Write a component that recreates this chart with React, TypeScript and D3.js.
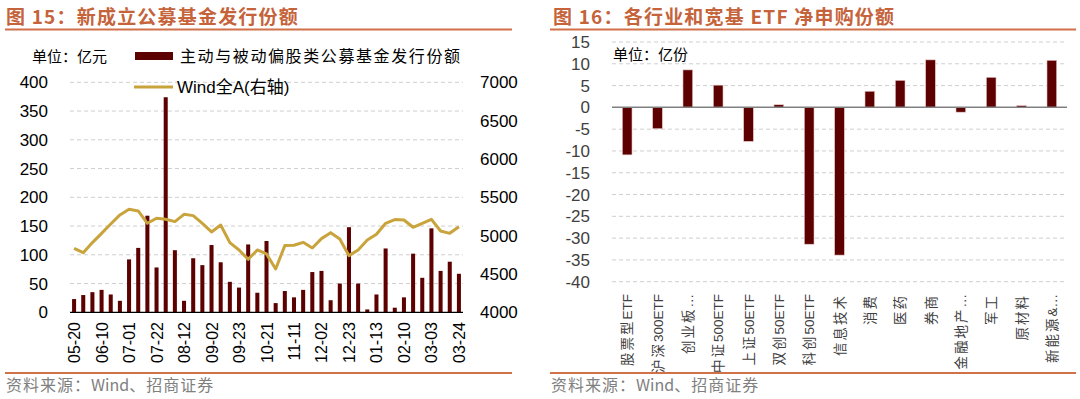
import React from "react";
import * as d3 from "d3";

// left chart: weekly new fund issuance (亿元) + Wind全A
const weeks = [
  "05-20", "05-27", "06-03", "06-10", "06-17", "06-24", "07-01", "07-08", "07-15",
  "07-22", "07-29", "08-05", "08-12", "08-19", "08-26", "09-02", "09-09", "09-16",
  "09-23", "10-08", "10-14", "10-21", "10-28", "11-04", "11-11", "11-18", "11-25",
  "12-02", "12-09", "12-16", "12-23", "12-30", "01-06", "01-13", "01-20", "01-27",
  "02-10", "02-17", "02-24", "03-03", "03-10", "03-17", "03-24",
];
const issuance = [
  23, 30, 35, 39, 31, 20, 92, 112, 168, 78, 374, 108, 20, 94, 82, 117, 87, 53,
  43, 118, 34, 124, 16, 37, 26, 39, 70, 72, 21, 50, 148, 50, 5, 31, 111, 8, 26,
  102, 60, 146, 72, 88, 67,
];
const windA = [
  4835, 4778, 4909, 5030, 5152, 5270, 5343, 5322, 5161, 5226, 5213, 5183, 5278,
  5261, 5161, 5048, 5139, 4909, 4813, 4691, 4813, 4761, 4565, 4870, 4874, 4913,
  4839, 4961, 5039, 4957, 4739, 4813, 4943, 5017, 5161, 5209, 5204, 5109, 5161,
  5213, 5061, 5030, 5117,
];
const leftTicks = [0, 50, 100, 150, 200, 250, 300, 350, 400];
const rightTicks = [4000, 4500, 5000, 5500, 6000, 6500, 7000];

// right chart: ETF net subscription (亿份)
const etfNames = [
  "股票型ETF", "沪深300ETF", "创业板…", "中证500ETF", "上证50ETF", "双创50ETF",
  "科创50ETF", "信息技术", "消费", "医药", "券商", "金融地产…", "军工", "原材料", "新能源&…",
];
const etfFlow = [-10.9, -4.9, 8.6, 5.1, -7.8, 0.6, -31.4, -33.9, 3.7, 6.2, 10.9, -1.1, 6.9, 0.4, 10.8];
const flowTicks = [15, 10, 5, 0, -5, -10, -15, -20, -25, -30, -35, -40];

const TITLE = "#c5633a";
const BAR = "#5c0000";
const GOLD = "#c9a43c";
const GRID = "#cfcfcf";
const SANS = "'Liberation Sans', Arial, 'Noto Sans CJK SC', sans-serif";
const CJK = "'Noto Sans CJK SC', sans-serif";

// CJK runs get extra spacing, latin runs stay tight
const splitRuns = (s: string) => s.split(/([A-Za-z0-9&…]+)/).filter((p) => p.length);

export default function App() {
  // left scales
  const x = d3.scaleBand().domain(weeks).range([69.5, 463.5]).paddingInner(0.56).paddingOuter(0.28);
  const y = d3.scaleLinear().domain([0, 400]).range([312.3, 82.3]);
  const y2 = d3.scaleLinear().domain([4000, 7000]).range([312.3, 82.3]);
  const line = d3
    .line<number>()
    .x((_, i) => x(weeks[i])! + x.bandwidth() / 2)
    .y((d) => y2(d));

  // right scales
  const xr = d3.scaleBand().domain(etfNames).range([612, 1067]).paddingInner(0.68).paddingOuter(0.34);
  const yr = d3.scaleLinear().domain([-40, 15]).range([281.7, 42]);

  return (
    <div style={{ position: "absolute", left: 0, top: 0 }}>
      <svg width={1080} height={399} style={{ display: "block", background: "#fff" }}>
        {/* titles */}
        <text x={6} y={24} fill={TITLE} fontFamily={CJK} fontWeight="bold" fontSize={19} letterSpacing={1.2}>
          图 15：新成立公募基金发行份额
        </text>
        <text x={553} y={24} fill={TITLE} fontFamily={CJK} fontWeight="bold" fontSize={19} letterSpacing={1.2}>
          图 16：各行业和宽基 ETF 净申购份额
        </text>
        <line x1={5} x2={512} y1={29.5} y2={29.5} stroke="#d0714a" strokeWidth={2} />
        <line x1={550} x2={1076} y1={29.5} y2={29.5} stroke="#d0714a" strokeWidth={2} />
        <line x1={5} x2={512} y1={373} y2={373} stroke="#d0714a" strokeWidth={2} />
        <line x1={550} x2={1076} y1={373} y2={373} stroke="#d0714a" strokeWidth={2} />
        {[6, 551].map((sx) => (
          <text key={sx} x={sx} y={391} fill="#808080" fontFamily={CJK} fontSize={16}>
            <tspan letterSpacing={1}>资料来源：</tspan>
            <tspan>Wind</tspan>
            <tspan letterSpacing={1}>、招商证券</tspan>
          </text>
        ))}

        {/* ---- left chart ---- */}
        {leftTicks.slice(1).map((t) => (
          <line key={t} x1={70} x2={463} y1={y(t)} y2={y(t)} stroke={GRID} strokeDasharray="4,3" />
        ))}
        {leftTicks.map((t) => (
          <text key={t} x={48} y={y(t) + 6} textAnchor="end" fontFamily={SANS} fontSize={17} fill="#000">
            {t}
          </text>
        ))}
        {rightTicks.map((t) => (
          <text key={t} x={480} y={y2(t) + 6} fontFamily={SANS} fontSize={17} fill="#000">
            {t}
          </text>
        ))}
        {issuance.map((v, i) => (
          <rect key={i} x={x(weeks[i])} y={y(v)} width={x.bandwidth()} height={y(0) - y(v)} fill={BAR} />
        ))}
        <line x1={70} x2={463} y1={y(0)} y2={y(0)} stroke="#000" strokeWidth={1.2} />
        <path d={line(windA) ?? ""} fill="none" stroke={GOLD} strokeWidth={3} strokeLinejoin="round" />
        {weeks.map((w, i) =>
          i % 3 === 0 ? (
            <text
              key={w}
              transform={`translate(${x(w)! + x.bandwidth() / 2 + 6},322) rotate(-90)`}
              textAnchor="end"
              fontFamily={SANS}
              fontSize={16}
              fill="#000"
            >
              {w}
            </text>
          ) : null
        )}
        <text x={32} y={62} fontFamily={CJK} fontSize={15} fill="#000">
          单位：亿元
        </text>
        <rect x={135} y={52} width={38} height={8} fill={BAR} />
        <text x={180} y={62} fontFamily={CJK} fontSize={16} letterSpacing={1.6} fill="#000">
          主动与被动偏股类公募基金发行份额
        </text>
        <line x1={134} x2={173} y1={87} y2={87} stroke={GOLD} strokeWidth={3} />
        <text x={177} y={93} fontFamily={SANS} fontSize={17} fill="#000">
          Wind全A(右轴)
        </text>

        {/* ---- right chart ---- */}
        {flowTicks.filter((t) => t !== 0).map((t) => (
          <line key={t} x1={612} x2={1067} y1={yr(t)} y2={yr(t)} stroke={GRID} strokeDasharray="4,3" />
        ))}
        {flowTicks.map((t) => (
          <text key={t} x={590} y={yr(t) + 6} textAnchor="end" fontFamily={SANS} fontSize={17} fill="#404040">
            {t}
          </text>
        ))}
        {etfFlow.map((v, i) => (
          <rect
            key={i}
            x={xr(etfNames[i])}
            y={yr(Math.max(0, v))}
            width={xr.bandwidth()}
            height={Math.abs(yr(v) - yr(0))}
            fill={BAR}
            stroke="#e9c9c9"
            strokeWidth={0.6}
          />
        ))}
        <line x1={612} x2={1067} y1={yr(0)} y2={yr(0)} stroke="#808080" strokeWidth={1.5} />
        {etfNames.map((n) => (
          <text
            key={n}
            transform={`translate(${xr(n)! + xr.bandwidth() / 2 + 5},294) rotate(-90)`}
            textAnchor="end"
            fontFamily={SANS}
            fontSize={13.5}
            fill="#404040"
          >
            {splitRuns(n).map((p, k) => (
              <tspan key={k} letterSpacing={/[A-Za-z0-9&…]/.test(p) ? 0 : 2}>
                {p}
              </tspan>
            ))}
          </text>
        ))}
        <text x={613} y={60} fontFamily={CJK} fontSize={15} fill="#000">
          单位：亿份
        </text>
      </svg>
    </div>
  );
}
